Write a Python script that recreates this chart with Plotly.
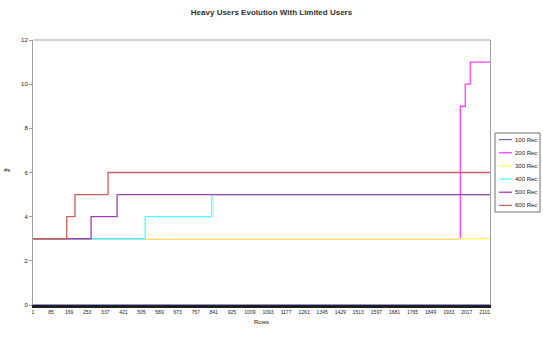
import plotly.graph_objects as go

# Row index labels shown along the category axis (every 84th row)
row_labels = [1, 85, 169, 253, 337, 421, 505, 589, 673, 757, 841, 925, 1009,
              1093, 1177, 1261, 1345, 1429, 1513, 1597, 1681, 1765, 1849,
              1933, 2017, 2101]
last_row = 2125

# Each series is stored as the rows where its count changes, and the new count
names = ["100 Rec", "200 Rec", "300 Rec", "400 Rec", "500 Rec", "600 Rec"]

rec100_rows = [1, last_row]
rec100_vals = [0, 0]

rec200_rows = [1, 1987, 2010, 2033, last_row]
rec200_vals = [3, 9, 10, 11, 11]

rec300_rows = [1, last_row]
rec300_vals = [3, 3]

rec400_rows = [1, 522, 832, last_row]
rec400_vals = [3, 4, 5, 5]

rec500_rows = [1, 271, 392, last_row]
rec500_vals = [3, 4, 5, 5]

rec600_rows = [1, 158, 196, 350, last_row]
rec600_vals = [3, 4, 5, 6, 6]

y_ticks = [0, 2, 4, 6, 8, 10, 12]

series = [
    (rec100_rows, rec100_vals, "#7070c0"),
    (rec200_rows, rec200_vals, "#ff40ff"),
    (rec300_rows, rec300_vals, "#ffff70"),
    (rec400_rows, rec400_vals, "#50ffff"),
    (rec500_rows, rec500_vals, "#a040b0"),
    (rec600_rows, rec600_vals, "#c86060"),
]

W, H = 543, 338
M = dict(l=33, r=53, t=40, b=33)
plot_w = W - M["l"] - M["r"]
plot_h = H - M["t"] - M["b"]


def px_x(px):
    return (px - M["l"]) / plot_w


def px_y(py):
    return (H - M["b"] - py) / plot_h


fig = go.Figure()
for name, (xs, ys, color) in zip(names, series):
    fig.add_trace(go.Scatter(
        x=xs, y=ys, name=name, mode="lines",
        line=dict(color=color, width=1.3, shape="hv"),
        showlegend=False,
    ))

# Light frame along the top of the plot area
fig.add_shape(type="line", xref="paper", yref="paper", x0=0, x1=1, y0=1, y1=1,
              line=dict(color="#a0a0a0", width=1))

# Compact boxed legend to the right of the plot area
box_l, box_r, box_t, box_b = 495, 540, 133, 212
fig.add_shape(type="rect", xref="paper", yref="paper",
              x0=px_x(box_l), x1=px_x(box_r), y0=px_y(box_b), y1=px_y(box_t),
              line=dict(color="#707070", width=1), fillcolor="white")
row_gap = (box_b - box_t) / len(names)
for i, (name, (_, _, color)) in enumerate(zip(names, series)):
    cy = box_t + row_gap * (i + 0.5)
    fig.add_shape(type="line", xref="paper", yref="paper",
                  x0=px_x(499), x1=px_x(512), y0=px_y(cy), y1=px_y(cy),
                  line=dict(color=color, width=1.3))
    fig.add_annotation(text=name, xref="paper", yref="paper",
                       x=px_x(513), y=px_y(cy), xanchor="left", yanchor="middle",
                       showarrow=False, font=dict(size=6))

fig.update_layout(
    width=W, height=H,
    margin=M,
    paper_bgcolor="white", plot_bgcolor="white",
    font=dict(family="Liberation Sans, Arial, sans-serif", color="#202020", size=6),
    title=dict(text="<b>Heavy Users Evolution With Limited Users</b>",
               x=0.5, xanchor="center", y=0.965, yanchor="middle",
               font=dict(size=8, color="#303030")),
    showlegend=False,
)

fig.update_xaxes(
    range=[1, last_row], tickmode="array",
    tickvals=row_labels, ticktext=[str(v) for v in row_labels],
    tickangle=0, tickfont=dict(size=5),
    showgrid=False, zeroline=False,
    showline=True, linecolor="#202020", linewidth=3, mirror=False,
    ticks="", title=dict(text="Rows", font=dict(size=6), standoff=6),
)
fig.update_yaxes(
    range=[0, 12], tickmode="array", tickvals=y_ticks,
    showgrid=False, zeroline=False,
    showline=True, linecolor="#a0a0a0", linewidth=1, mirror=True,
    ticks="outside", ticklen=3, tickcolor="#a0a0a0", tickfont=dict(size=6),
)
# Horizontal "#s" label beside the value axis
fig.add_annotation(text="#s", x=-0.045, xref="paper", y=0.51, yref="paper",
                   showarrow=False, font=dict(size=6), xanchor="right")

fig.write_html("out.html")
